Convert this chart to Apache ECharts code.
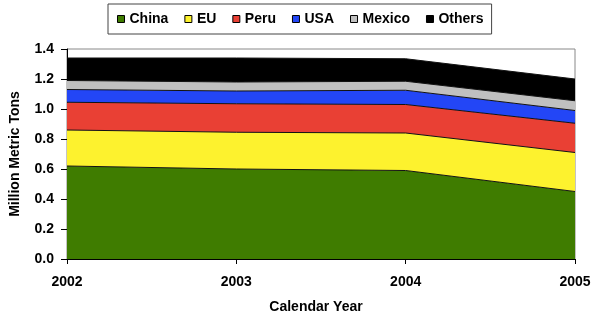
<!DOCTYPE html>
<html>
<head>
<meta charset="utf-8">
<style>
  html, body { margin: 0; padding: 0; background: #fff; }
  #chart { width: 603px; height: 319px; }
</style>
<script src="https://cdn.jsdelivr.net/npm/echarts@6/dist/echarts.min.js"></script>
</head>
<body>
<div id="chart"></div>
<script>
var years = ['2002', '2003', '2004', '2005'];
var china = [0.62, 0.60, 0.59, 0.45];
var eu = [0.24, 0.245, 0.25, 0.26];
var peru = [0.185, 0.19, 0.19, 0.195];
var usa = [0.085, 0.085, 0.095, 0.085];
var mexico = [0.06, 0.06, 0.06, 0.065];
var others = [0.15, 0.16, 0.15, 0.145];
var yTicks = ['0.0', '0.2', '0.4', '0.6', '0.8', '1.0', '1.2', '1.4'];

var font = 'Liberation Sans, Arial, sans-serif';

function layer(name, data, color) {
    return {
        name: name,
        type: 'line',
        stack: 'total',
        data: data,
        symbol: 'none',
        itemStyle: { color: color },
        lineStyle: { color: '#111', width: 1 },
        areaStyle: { color: color, opacity: 1 }
    };
}

var myChart = echarts.init(document.getElementById('chart'));
var option = {
    animation: false,
    legend: {
        top: 4,
        left: 108,
        padding: [8, 8, 8, 9],
        borderColor: '#444',
        borderWidth: 1,
        icon: 'rect',
        itemWidth: 7,
        itemHeight: 7,
        itemGap: 16,
        itemStyle: { borderColor: '#000', borderWidth: 1 },
        textStyle: { fontFamily: font, fontWeight: 'bold', fontSize: 14, color: '#000' },
        data: ['China', 'EU', 'Peru', 'USA', 'Mexico', 'Others']
    },
    grid: {
        left: 67,
        right: 28,
        top: 49,
        bottom: 56,
        show: true,
        borderColor: '#888',
        borderWidth: 1
    },
    xAxis: {
        type: 'category',
        data: years,
        boundaryGap: false,
        name: 'Calendar Year',
        nameLocation: 'middle',
        nameGap: 41,
        nameTextStyle: { fontFamily: font, fontWeight: 'bold', fontSize: 14, color: '#000', padding: [0, 10, 0, 0] },
        axisLine: { lineStyle: { color: '#000', width: 1 } },
        axisTick: { length: 5, lineStyle: { color: '#000' } },
        axisLabel: { margin: 16, fontFamily: font, fontWeight: 'bold', fontSize: 14, color: '#000' },
        splitLine: { show: false }
    },
    yAxis: {
        type: 'value',
        min: 0,
        max: 1.4,
        interval: 0.2,
        name: 'Million Metric Tons',
        nameLocation: 'middle',
        nameGap: 45,
        nameTextStyle: { fontFamily: font, fontWeight: 'bold', fontSize: 14, color: '#000' },
        axisLine: { show: true, lineStyle: { color: '#000', width: 1 } },
        axisTick: { show: true, length: 6, lineStyle: { color: '#000' } },
        axisLabel: {
            margin: 13,
            fontFamily: font, fontWeight: 'bold', fontSize: 14, color: '#000',
            formatter: function (v) { return yTicks[Math.round(v / 0.2)]; }
        },
        splitLine: { show: false }
    },
    series: [
        layer('China', china, '#3f7c00'),
        layer('EU', eu, '#fdf22e'),
        layer('Peru', peru, '#e94034'),
        layer('USA', usa, '#2346f6'),
        layer('Mexico', mexico, '#c0c0c0'),
        layer('Others', others, '#000000')
    ]
};
myChart.setOption(option);
</script>
</body>
</html>
